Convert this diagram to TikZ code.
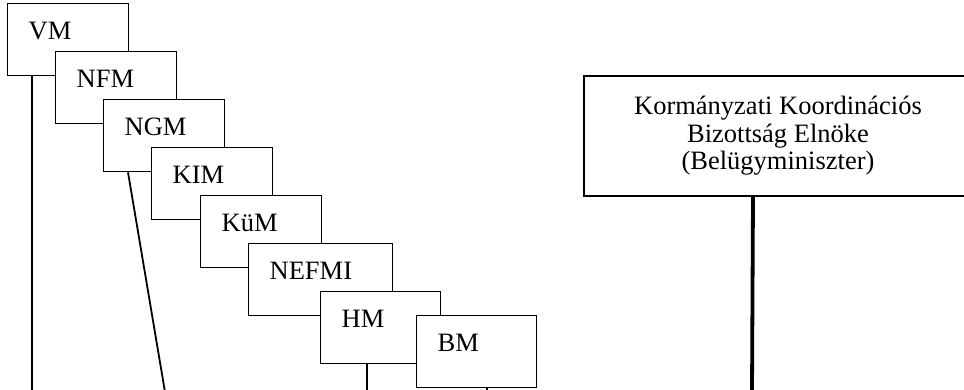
\documentclass[tikz,border=0pt]{standalone}
\usepackage{fontspec}
\setmainfont{Liberation Serif}
\usepackage{tikz}

\tikzset{
  ministry/.style={draw, fill=white, line width=1.3pt, anchor=north west,
    align=left, inner xsep=21pt, inner ysep=0pt, text width=79pt,
    text height=36pt, text depth=36pt, font=\fontsize{26.5}{27.5}\selectfont},
  chair/.style={draw, fill=white, line width=2pt, anchor=north west,
    minimum width=388pt, minimum height=120pt, align=center,
    font=\fontsize{26.5}{27.5}\selectfont},
  link/.style={line width=1.8pt},
}

\begin{document}
\begin{tikzpicture}[x=1pt, y=-1pt]
    \useasboundingbox (0,0) rectangle (964,390);

    % ministries, each one covering the one before
    \node[ministry] (vm) at (7,3) {VM};
    \node[ministry] (nfm) at (55,51) {NFM};
    \node[ministry] (ngm) at (103,99) {NGM};
    \node[ministry] (kim) at (151,147) {KIM};
    \node[ministry] (kum) at (200,195) {KüM};
    \node[ministry, text width=102pt] (nefmi) at (248,243) {NEFMI};
    \node[ministry, text width=78pt] (hm) at (320,291) {HM};
    \node[ministry, text width=78pt] (bm) at (416,315) {BM};

    \node[chair] (chair) at (583,75) {Kormányzati Koordinációs\\Bizottság Elnöke\\(Belügyminiszter)};

    % lines running off the bottom
    \coordinate (vmfoot) at (32,392);
    \coordinate (ngmfoot) at (165,392);
    \coordinate (hmfoot) at (367,392);
    \coordinate (bmfoot) at (487,392);
    \coordinate (chairfoot) at (752,392);

    \draw[link] ([xshift=25pt]vm.south west) -- (vmfoot);
    \draw[link] ([xshift=25pt]ngm.south west) -- (ngmfoot);
    \draw[link] ([xshift=47pt]hm.south west) -- (hmfoot);
    \draw[link] ([xshift=71pt]bm.south west) -- (bmfoot);
    \draw[line width=3.8pt] ([xshift=-25pt]chair.south) -- (chairfoot);
\end{tikzpicture}
\end{document}
